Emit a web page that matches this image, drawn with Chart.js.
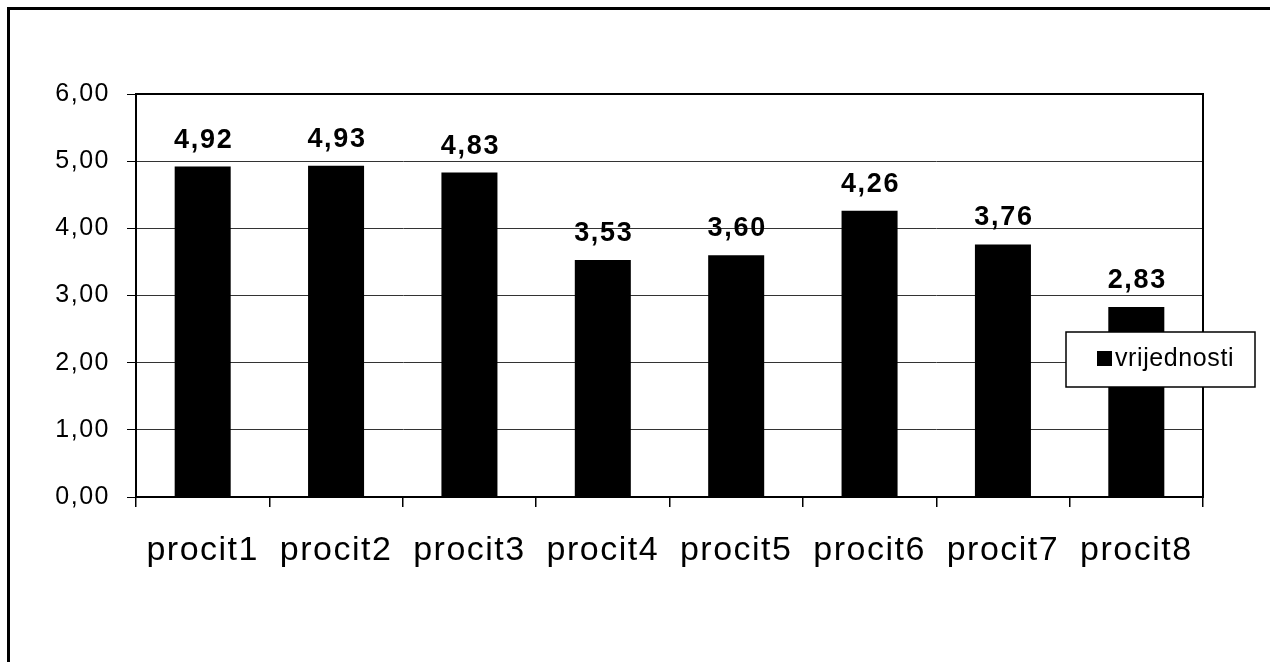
<!DOCTYPE html>
<html>
<head>
<meta charset="utf-8">
<title>procit</title>
<script src="https://cdn.jsdelivr.net/npm/chart.js@4/dist/chart.umd.min.js"></script>
<style>
  html, body { margin: 0; padding: 0; background: #ffffff; }
  #wrap { width: 1270px; height: 662px; }
</style>
</head>
<body>
<div id="wrap"><canvas id="c" width="1270" height="662"></canvas></div>
<script>
// Categories and their values
const categories = ['procit1', 'procit2', 'procit3', 'procit4', 'procit5', 'procit6', 'procit7', 'procit8'];
const values = [4.92, 4.93, 4.83, 3.53, 3.60, 4.26, 3.76, 2.83];
const seriesName = 'vrijednosti';
const yTicks = [0, 1, 2, 3, 4, 5, 6];

const FONT = '"Liberation Sans", Arial, sans-serif';
const fmt = v => v.toFixed(2).replace('.', ',');

// Outer frame, plot box, value labels and the legend box
const decorations = {
  id: 'decorations',
  beforeDraw(chart) {
    const ctx = chart.ctx;
    ctx.save();
    ctx.fillStyle = '#ffffff';
    ctx.fillRect(0, 0, chart.width, chart.height);
    ctx.strokeStyle = '#000000';
    ctx.lineWidth = 3;
    ctx.beginPath();
    ctx.moveTo(8.5, chart.height + 5);
    ctx.lineTo(8.5, 8.5);
    ctx.lineTo(chart.width + 5, 8.5);
    ctx.stroke();
    ctx.restore();
    // slightly wider lettering for the axis labels
    ctx.letterSpacing = '1.5px';
  },
  afterDatasetsDraw(chart) {
    const ctx = chart.ctx;
    const a = chart.chartArea;
    ctx.save();
    // plot box
    ctx.strokeStyle = '#000000';
    ctx.lineWidth = 2;
    ctx.strokeRect(a.left, a.top, a.right - a.left, a.bottom - a.top);
    // value labels above the bars
    const meta = chart.getDatasetMeta(0);
    ctx.fillStyle = '#000000';
    ctx.font = 'bold 27px ' + FONT;
    ctx.letterSpacing = '1.7px';
    ctx.textAlign = 'center';
    ctx.textBaseline = 'alphabetic';
    meta.data.forEach((bar, i) => {
      ctx.fillText(fmt(values[i]), bar.x + 1, bar.y - 19);
    });
    ctx.restore();
  },
  afterDraw(chart) {
    const ctx = chart.ctx;
    ctx.save();
    const bx = 1066, by = 332, bw = 189, bh = 55;
    ctx.fillStyle = '#ffffff';
    ctx.fillRect(bx, by, bw, bh);
    ctx.strokeStyle = '#000000';
    ctx.lineWidth = 1.5;
    ctx.strokeRect(bx, by, bw, bh);
    ctx.fillStyle = '#000000';
    ctx.fillRect(1097, 351, 15, 15);
    ctx.font = '25px ' + FONT;
    ctx.letterSpacing = '0.6px';
    ctx.textAlign = 'left';
    ctx.textBaseline = 'middle';
    ctx.fillText(seriesName, 1115, 359);
    ctx.restore();
    ctx.letterSpacing = '0px';
  }
};

new Chart(document.getElementById('c'), {
  type: 'bar',
  data: {
    labels: categories,
    datasets: [{
      label: seriesName,
      data: values,
      backgroundColor: '#000000',
      borderWidth: 0,
      categoryPercentage: 1.0,
      barPercentage: 0.42
    }]
  },
  options: {
    responsive: false,
    animation: false,
    devicePixelRatio: 1,
    layout: { padding: { top: 94, right: 67, left: 0, bottom: 0 } },
    plugins: {
      legend: { display: false },
      tooltip: { enabled: false }
    },
    scales: {
      x: {
        offset: true,
        grid: {
          offset: true,
          drawOnChartArea: false,
          drawTicks: true,
          tickLength: 10,
          color: '#000000',
          lineWidth: 1.5
        },
        border: { display: true, color: '#000000', width: 2 },
        ticks: {
          color: '#000000',
          font: { family: FONT, size: 34 },
          padding: 23,
          maxRotation: 0,
          autoSkip: false
        },
        afterFit(scale) { scale.height = 165; }
      },
      y: {
        min: 0,
        max: 6,
        afterBuildTicks(scale) { scale.ticks = yTicks.map(v => ({ value: v })); },
        grid: {
          color: '#333333',
          lineWidth: 1,
          drawTicks: true,
          tickLength: 9,
          tickColor: '#000000'
        },
        border: { display: true, color: '#000000', width: 2 },
        ticks: {
          color: '#000000',
          font: { family: FONT, size: 25 },
          padding: 17,
          callback: v => fmt(v)
        },
        afterFit(scale) { scale.width = 136; }
      }
    }
  },
  plugins: [decorations]
});
</script>
</body>
</html>
